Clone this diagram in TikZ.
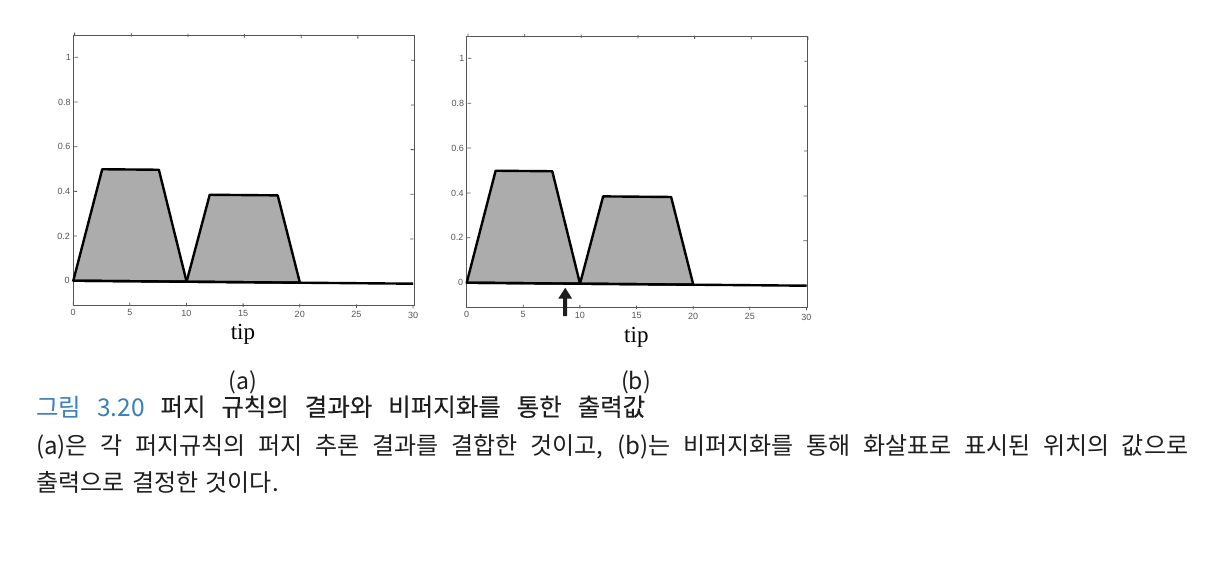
\documentclass[tikz,border=0pt]{standalone}
\usepackage{fontspec}
\setmainfont{Liberation Serif}
\newfontfamily\kr{Noto Sans CJK KR}[WordSpace=1.4]
\newfontfamily\krt{Noto Sans CJK KR}[WordSpace=1.4, FakeBold=0.12]
\newfontfamily\ticksf{Liberation Sans}
\usetikzlibrary{arrows.meta}
\definecolor{titleblue}{RGB}{58,128,186}
\definecolor{areagray}{RGB}{172,172,172}
\definecolor{framegray}{RGB}{85,85,85}
\definecolor{txt}{RGB}{30,30,30}
\tikzset{
  frameline/.style={draw=framegray, line width=0.9pt},
  tickline/.style={draw=framegray, line width=0.8pt},
  area/.style={fill=areagray, draw=black, line width=2.4pt, line join=round},
  zeroline/.style={draw=black, line width=2.4pt},
  ticklab/.style={font=\ticksf\fontsize{9}{10}\selectfont, text=framegray, inner sep=0pt},
  axlab/.style={font=\fontsize{23}{25}\selectfont, text=black, inner sep=0pt},
  sublab/.style={font=\kr\fontsize{23}{26}\selectfont, text=txt, inner sep=0pt},
  captext/.style={font=\kr\fontsize{24}{28}\selectfont, text=txt, inner sep=0pt, anchor=base west},
  titletext/.style={font=\kr\fontsize{24.5}{28}\selectfont, text=txt, inner sep=0pt, anchor=base west},
  pointer/.style={-{Triangle[width=13pt,length=11pt]}, line width=4pt, draw=txt}
}
\newcommand\fuzzyplot[1]{%
  \draw[frameline] (0,-0.11) rectangle (30,1.11);
  \foreach \t in {0,5,...,30}{
    \draw[tickline] (\t,-0.11) -- ++(0,0.015);
    \draw[tickline] (\t,1.11) -- ++(0,-0.015);
    \node[ticklab, anchor=north] (#1-x\t) at (\t,-0.126) {\t};
  }
  \foreach \v/\l/\n in {0/0/a,0.2/0.2/b,0.4/0.4/c,0.6/0.6/d,0.8/0.8/e,1/1/f}{
    \draw[tickline] (0,\v) -- ++(0.3,0);
    \draw[tickline] (30,\v) -- ++(-0.3,0);
    \node[ticklab, anchor=east] (#1-y\n) at (-0.3,\v) {\l};
  }
  \draw[area] (0,0) -- (2.5,0.5) -- (7.5,0.5) -- (10,0) -- cycle;
  \draw[area] (10,0) -- (12,0.39) -- (18,0.39) -- (20,0) -- cycle;
  \draw[zeroline] (0,0) -- (30,0);
  \node[axlab] (#1-tip) at (15,-0.235) {tip};
}
\begin{document}
\begin{tikzpicture}[x=1pt,y=1pt]
\path[use as bounding box, fill=white] (0,0) rectangle (1214,560);
\begin{scope}[shift={(73.3pt,279.3pt)}, x={(11.33pt,-0.1pt)}, y={(1.2pt,223.4pt)}]
  \fuzzyplot{L}
\end{scope}
\begin{scope}[shift={(466.7pt,277.3pt)}, x={(11.33pt,-0.1pt)}, y={(1.2pt,224.4pt)}]
  \fuzzyplot{R}
  \coordinate (arrT) at (8.7,-0.145);
  \coordinate (arrH) at (8.7,-0.018);
  \draw[pointer] (arrT) -- (arrH);
\end{scope}
\node[sublab] (suba) at (243,178) {(a)};
\node[sublab] (subb) at (636,178) {(b)};
\node[titletext] (cap1) at (36,144) {\makebox[609pt][s]{{\color{titleblue}그림 3.20} {\krt 퍼지 규칙의 결과와 비퍼지화를 통한 출력값}}};
\node[captext] (cap2) at (36,106) {\makebox[1152pt][s]{(a)은 각 퍼지규칙의 퍼지 추론 결과를 결합한 것이고, (b)는 비퍼지화를 통해 화살표로 표시된 위치의 값으로}};
\node[captext] (cap3) at (36,69) {출력으로 결정한 것이다.};
\end{tikzpicture}
\end{document}
